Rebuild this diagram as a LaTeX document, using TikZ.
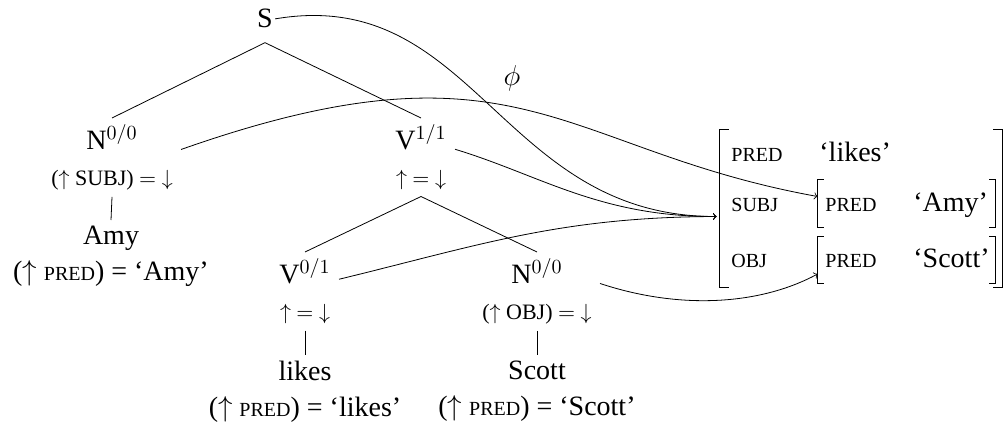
\documentclass[tikz,border=0pt]{standalone}
\usepackage{fontspec}
\setmainfont{Liberation Serif}
\newcommand\fsc[1]{{\fontsize{10}{12}\selectfont #1}}
\newcommand\eqsize{\fontsize{11}{13}\selectfont}
\begin{document}
\begin{tikzpicture}[x=0.5pt, y=-0.5pt, font=\fontsize{14}{18}\selectfont,
    cat/.style={align=center, inner xsep=4pt, inner ysep=3pt, anchor=north},
    attr/.style={anchor=base west, inner sep=0pt},
    fbox/.style={inner sep=0pt, minimum width=#1}]
    \useasboundingbox (0,0) rectangle (1004,427);

    % c-structure
    \node[inner xsep=1pt, inner ysep=7pt, anchor=base] (S) at (265,28) {S};
    \node[cat] (nsubj) at (112,118) {N$^{0/0}$\\{\eqsize($\uparrow$ SUBJ) $=$ $\downarrow$}};
    \node[cat] (vtop) at (421,118) {V$^{1/1}$\\{\eqsize$\uparrow$ $=$ $\downarrow$}};
    \node[cat] (amy) at (111,220) {Amy\\($\uparrow$ \fsc{PRED}) = `Amy'};
    \node[cat] (vlow) at (305,252) {V$^{0/1}$\\{\eqsize$\uparrow$ $=$ $\downarrow$}};
    \node[cat] (nobj) at (537,252) {N$^{0/0}$\\{\eqsize($\uparrow$ OBJ) $=$ $\downarrow$}};
    \node[cat] (likes) at (305,355) {likes\\($\uparrow$ \fsc{PRED}) = `likes'};
    \node[cat] (scott) at (537,355) {Scott\\($\uparrow$ \fsc{PRED}) = `Scott'};

    \draw (S.south) -- (nsubj.north);
    \draw (S.south) -- (vtop.north);
    \draw (nsubj.south) -- (amy.north);
    \draw (vtop.south) -- (vlow.north);
    \draw (vtop.south) -- (nobj.north);
    \draw (vlow.south) -- (likes.north);
    \draw (nobj.south) -- (scott.north);

    % f-structure
    \node[fbox=141pt, minimum height=78.5pt] (fout) at (861,208.5) {};
    \node[fbox=88.5pt, minimum height=23.5pt] (fsubj) at (906.5,203.5) {};
    \node[fbox=88.5pt, minimum height=23pt] (fobj) at (906.5,260) {};

    \node[attr] (pred1) at (731,162) {\fsc{PRED}};
    \node[attr] (val1) at (819,162) {`likes'};
    \node[attr] (subj) at (731,212) {\fsc{SUBJ}};
    \node[attr] (pred2) at (825,212) {\fsc{PRED}};
    \node[attr] (val2) at (913,212) {`Amy'};
    \node[attr] (obj) at (731,267) {\fsc{OBJ}};
    \node[attr] (pred3) at (825,267) {\fsc{PRED}};
    \node[attr] (val3) at (913,267) {`Scott'};

    \draw[line width=0.7pt] ([xshift=4.5pt]fout.north west) -| (fout.south west) -- ++(4.5pt,0);
    \draw[line width=0.7pt] ([xshift=-4.5pt]fout.north east) -| (fout.south east) -- ++(-4.5pt,0);
    \draw ([xshift=3pt]fsubj.north west) -| (fsubj.south west) -- ++(3pt,0);
    \draw ([xshift=-3pt]fsubj.north east) -| (fsubj.south east) -- ++(-3pt,0);
    \draw ([xshift=3pt]fobj.north west) -| (fobj.south west) -- ++(3pt,0);
    \draw ([xshift=-3pt]fobj.north east) -| (fobj.south east) -- ++(-3pt,0);

    % phi projection
    \node (phi) at (512,78) {$\phi$};
    \coordinate (fin) at ([xshift=-1.5pt,yshift=-4pt]fout.west);
    \draw[->] (S.east) .. controls (475,-15) and (500,217) .. (fin);
    \draw[->] ([yshift=4pt]nsubj.east) .. controls (520,30) and (560,150) .. ([yshift=3.5pt]fsubj.west);
    \draw[->] ([yshift=4pt]vtop.east) .. controls (540,175) and (600,217) .. (fin);
    \draw[->] ([yshift=6pt]vlow.east) .. controls (480,245) and (560,217) .. (fin);
    \draw[->] ([yshift=4pt]nobj.east) .. controls (680,310) and (760,305) .. ([yshift=-7pt]fobj.west);
\end{tikzpicture}
\end{document}
